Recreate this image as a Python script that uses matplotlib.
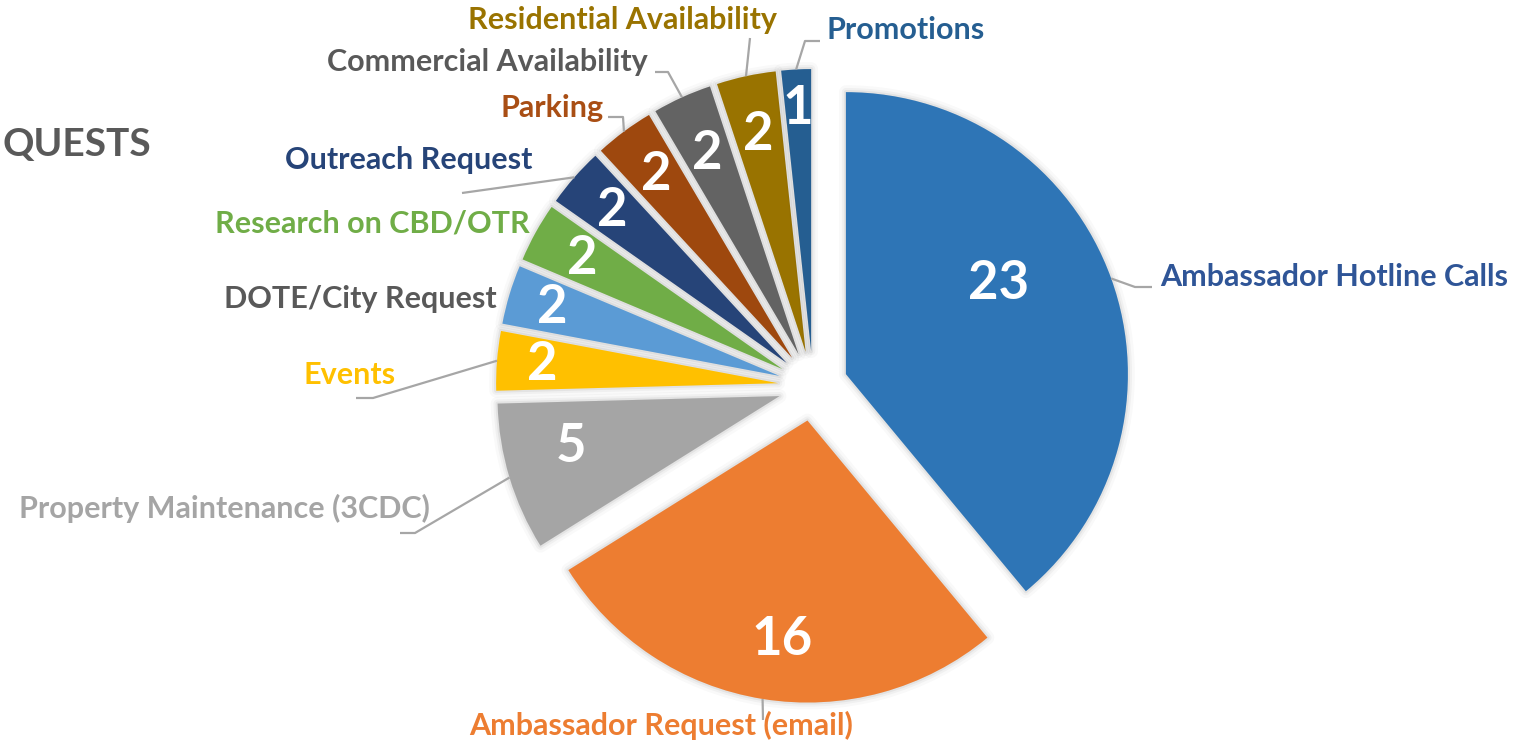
import numpy as np
import matplotlib
matplotlib.use("Agg")
import matplotlib.pyplot as plt
import matplotlib.patheffects as pe

plt.rcParams['font.family'] = ['Lato', 'DejaVu Sans']

# ---------------- data ----------------
categories = ["Ambassador Hotline Calls", "Ambassador Request (email)",
              "Property Maintenance (3CDC)", "Events", "DOTE/City Request",
              "Research on CBD/OTR", "Outreach Request", "Parking",
              "Commercial Availability", "Residential Availability", "Promotions"]
values = [23, 16, 5, 2, 2, 2, 2, 2, 2, 2, 1]
slice_colors = ["#2E75B6", "#ED7D31", "#A5A5A5", "#FFC000", "#5B9BD5", "#70AD47",
                "#264478", "#9E480E", "#636363", "#997300", "#255E91"]
label_colors = ["#2F5597", "#ED7D31", "#A5A5A5", "#FFC000", "#595959", "#70AD47",
                "#264478", "#A94E14", "#595959", "#997300", "#255E91"]
title_text = "QUESTS"

# ---------------- layout (pixels) ----------------
W, H = 1531, 744
CX, CY, RPX = 813, 386, 282          # pie centre and radius in pixels
EXPLODE = 0.124


def P(px, py):
    return ((px - CX) / RPX, (CY - py) / RPX)


# value-label placement: distance (fraction of radius) and angle offset (deg, ccw)
value_dist = [0.63, 0.78, 0.76, 0.84, 0.84, 0.81, 0.82, 0.81, 0.78, 0.79, 0.86]
value_dang = [11, 2.6, -3.1, 0, 0, 0, 0, 0, 0, 0, 0]

# category-label placement
label_pos = [(1160, 277), (661, 725), (430, 508), (396, 375), (497, 299),
             (530, 224), (532, 160), (604, 108), (648, 62), (622, 20), (826, 30)]
label_ha = ["left", "center", "right", "right", "right", "right", "right",
            "right", "right", "center", "left"]
leader_pts = [[(1135, 287), (1152, 287)], [(763, 720)], [(415, 533), (400, 533)],
              [(373, 398), (356, 398)], None, None, [(462, 193)],
              [(623, 117), (608, 117)], [(668, 72), (655, 72)], [(750, 38)],
              [(805, 41), (820, 41)]]

fig = plt.figure(figsize=(W / 100, H / 100), dpi=100)
ax = fig.add_axes([0, 0, 1, 1])
wedges, _ = ax.pie(values, colors=slice_colors, startangle=90, counterclock=False,
                   explode=[EXPLODE] * len(values), radius=1.0,
                   wedgeprops=dict(linewidth=0))
ax.set_xlim(P(0, 0)[0], P(W, 0)[0])
ax.set_ylim(P(0, H)[1], P(0, 0)[1])
ax.set_aspect('auto')
ax.axis('off')

shadow = [pe.Stroke(linewidth=10, foreground='black', alpha=0.025, joinstyle='round'),
          pe.Stroke(linewidth=6, foreground='black', alpha=0.035, joinstyle='round'),
          pe.Stroke(linewidth=3, foreground='black', alpha=0.05, joinstyle='round'),
          pe.Normal()]
for w in wedges:
    w.set_path_effects(shadow)

for i, w in enumerate(wedges):
    cx, cy = w.center
    thm = np.deg2rad(0.5 * (w.theta1 + w.theta2))
    # value label
    ang = thm + np.deg2rad(value_dang[i])
    d = value_dist[i] * w.r
    ax.text(cx + d * np.cos(ang), cy + d * np.sin(ang), str(values[i]),
            ha='center', va='center', color='white', fontsize=38,
            fontweight='bold', zorder=5)
    # leader line
    if leader_pts[i] is not None:
        xs = [cx + w.r * np.cos(thm)] + [P(*p)[0] for p in leader_pts[i]]
        ys = [cy + w.r * np.sin(thm)] + [P(*p)[1] for p in leader_pts[i]]
        ax.plot(xs, ys, color='#A6A6A6', lw=1.6, zorder=1,
                solid_capstyle='butt')
    # category label
    lx, ly = P(*label_pos[i])
    ax.text(lx, ly, categories[i], ha=label_ha[i], va='center',
            color=label_colors[i], fontsize=22, fontweight='bold')

tx, ty = P(2, 145)
ax.text(tx, ty, title_text, ha='left', va='center', color='#595959',
        fontsize=28, fontweight='bold')

fig.savefig("out.png", dpi=100, facecolor='white')
